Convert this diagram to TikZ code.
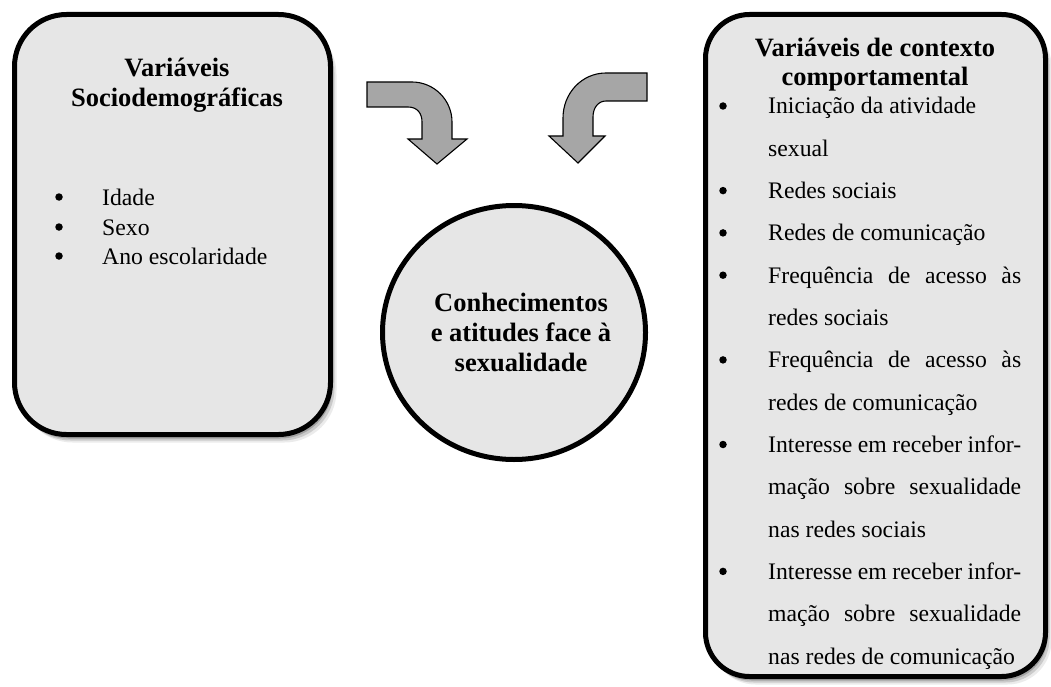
\documentclass[tikz,border=0pt]{standalone}
\usepackage{fontspec}
\setmainfont{Liberation Serif}
\usetikzlibrary{shadows,shapes.geometric}
\definecolor{boxfill}{HTML}{E6E6E6}
\definecolor{arrowfill}{HTML}{A6A6A6}
\newlength{\itemwd}
\setlength{\itemwd}{253pt}
\begin{document}
\begin{tikzpicture}[x=1pt,y=-1pt,
  panel/.style={draw=black, line width=5pt, fill=boxfill, inner sep=0pt,
    general shadow={fill=black, opacity=.08, shadow xshift=6pt, shadow yshift=-8pt},
    general shadow={fill=black, opacity=.14, shadow xshift=4pt, shadow yshift=-6pt},
    general shadow={fill=black, opacity=.2, shadow xshift=2pt, shadow yshift=-4pt}},
  ttl/.style={font=\fontsize{26.5}{30}\selectfont\bfseries, inner sep=0pt, anchor=base},
  item/.style={font=\fontsize{23.7}{28}\selectfont, inner sep=0pt, anchor=base west},
  bul/.style={circle, fill=black, inner sep=0pt, minimum size=7.5pt},
  blockarrow/.style={draw=black, line width=1.1pt, fill=arrowfill, line join=miter}]
\useasboundingbox (0,0) rectangle (1051,687);

% left panel
\node[panel, rounded corners=52pt, minimum width=316pt, minimum height=420pt] (socio) at (172.5,224.5) {};
\node[ttl] (sociot1) at (177,77) {Variáveis};
\node[ttl] (sociot2) at (177,107) {Sociodemográficas};
\node[bul] (sb1) at (59,197) {};
\node[item] (si1) at (102,205) {Idade};
\node[bul] (sb2) at (59,227) {};
\node[item] (si2) at (102,235) {Sexo};
\node[bul] (sb3) at (59,256) {};
\node[item] (si3) at (102,264) {Ano escolaridade};

% right panel
\node[panel, rounded corners=44pt, minimum width=340pt, minimum height=662pt] (ctx) at (875.5,345.5) {};
\node[ttl] (ctxt1) at (875,57) {Variáveis de contexto};
\node[ttl] (ctxt2) at (875,86) {comportamental};
\node[bul] (cb1) at (723,106) {};
\node[item] (ci1) at (768,114) {Iniciação da atividade};
\node[item] (ci2) at (768,156.3) {sexual};
\node[bul] (cb3) at (723,190.6) {};
\node[item] (ci3) at (768,198.6) {Redes sociais};
\node[bul] (cb4) at (723,232.9) {};
\node[item] (ci4) at (768,240.9) {Redes de comunicação};
\node[bul] (cb5) at (723,275.2) {};
\node[item] (ci5) at (768,283.2) {\makebox[\itemwd][s]{Frequência de acesso às}};
\node[item] (ci6) at (768,325.5) {redes sociais};
\node[bul] (cb7) at (723,359.9) {};
\node[item] (ci7) at (768,367.9) {\makebox[\itemwd][s]{Frequência de acesso às}};
\node[item] (ci8) at (768,410.2) {redes de comunicação};
\node[bul] (cb9) at (723,444.5) {};
\node[item] (ci9) at (768,452.5) {\makebox[\itemwd][s]{Interesse em receber infor-}};
\node[item] (ci10) at (768,494.8) {\makebox[\itemwd][s]{mação sobre sexualidade}};
\node[item] (ci11) at (768,537.1) {nas redes sociais};
\node[bul] (cb12) at (723,571.4) {};
\node[item] (ci12) at (768,579.4) {\makebox[\itemwd][s]{Interesse em receber infor-}};
\node[item] (ci13) at (768,621.7) {\makebox[\itemwd][s]{mação sobre sexualidade}};
\node[item] (ci14) at (768,664) {nas redes de comunicação};

% centre circle
\node[draw=black, line width=5pt, fill=boxfill, ellipse, inner sep=0pt, minimum width=263pt, minimum height=254pt] (know) at (514,332.5) {};
\node[ttl] (kt1) at (521,311) {Conhecimentos};
\node[ttl] (kt2) at (521,341) {e atitudes face à};
\node[ttl] (kt3) at (521,371) {sexualidade};

% block arrows
\draw[blockarrow] (367,82) -- (412,82) .. controls (434,82) and (452,100) .. (452,122)
  -- (452,139) -- (467,139) -- (437,164) -- (408,139) -- (422,139) -- (422,122)
  .. controls (422,113) and (417,107) .. (408,107) -- (367,107) -- cycle;
\draw[blockarrow] (647,73) -- (647,101) -- (606,101) .. controls (598,101) and (593,108) .. (593,117)
  -- (593,136) -- (605,136) -- (578,163) -- (549,136) -- (563,136) -- (563,118)
  .. controls (563,93) and (582,73) .. (606,73) -- cycle;
\end{tikzpicture}
\end{document}
